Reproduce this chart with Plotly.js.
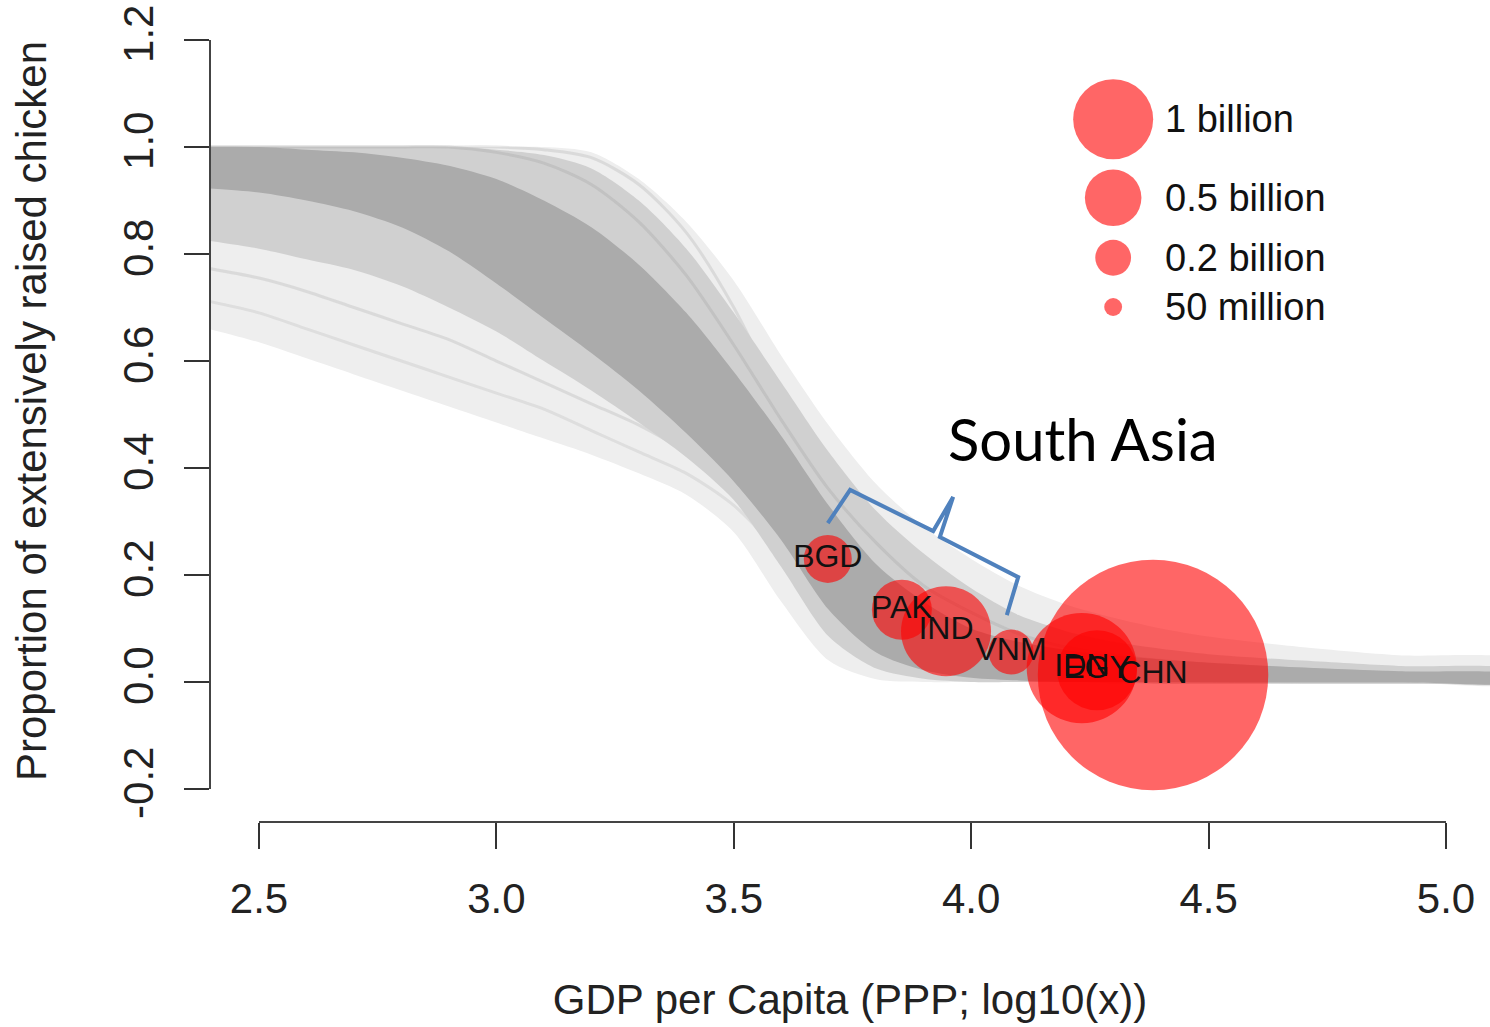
<!DOCTYPE html>
<html>
<head>
<meta charset="utf-8">
<script src="https://cdn.plot.ly/plotly-3.0.1.min.js"></script>
<style>html,body{margin:0;padding:0;background:#fff}#chart{width:1490px;height:1027px}</style>
</head>
<body>
<div id="chart"></div>
<script>
// ---- data ----
// grey bootstrap-curve band, sampled on a log10 GDP grid
const xGrid    = [2.35, 2.5, 2.6, 2.7, 2.8, 2.9, 3.0, 3.1, 3.2, 3.3, 3.4, 3.5, 3.6, 3.7, 3.8, 3.9, 4.0, 4.1, 4.2, 4.3, 4.4, 4.5, 4.7, 4.9, 5.15];
const outerTop = [1, 1, 1, 1, 1, 1, 1, 1, 0.99, 0.94, 0.86, 0.75, 0.61, 0.48, 0.37, 0.29, 0.23, 0.18, 0.145, 0.12, 0.10, 0.085, 0.065, 0.05, 0.04];
const outerBot = [0.67, 0.635, 0.605, 0.575, 0.545, 0.515, 0.485, 0.455, 0.425, 0.39, 0.35, 0.28, 0.15, 0.04, 0.005, 0, 0, 0, 0, 0, 0, 0, 0, 0, 0];
const midTop   = [1, 1, 1, 1, 1, 1, 0.995, 0.985, 0.96, 0.90, 0.81, 0.69, 0.56, 0.43, 0.32, 0.24, 0.175, 0.125, 0.095, 0.075, 0.062, 0.052, 0.04, 0.03, 0.022];
const midBot   = [0.83, 0.81, 0.79, 0.77, 0.74, 0.70, 0.655, 0.60, 0.545, 0.485, 0.42, 0.34, 0.215, 0.085, 0.025, 0.006, 0, 0, 0, 0, 0, 0, 0, 0, 0];
const coreTop  = [1, 1, 0.995, 0.99, 0.98, 0.965, 0.94, 0.90, 0.85, 0.78, 0.69, 0.58, 0.46, 0.33, 0.22, 0.15, 0.10, 0.075, 0.06, 0.05, 0.042, 0.036, 0.027, 0.02, 0.013];
const coreBot  = [0.925, 0.915, 0.90, 0.88, 0.85, 0.805, 0.745, 0.68, 0.615, 0.545, 0.465, 0.375, 0.265, 0.135, 0.055, 0.022, 0.008, 0.003, 0, 0, 0, 0, 0, 0, 0];
// a few individual curves visible as streaks inside the band
const streakA  = [0.86, 0.84, 0.82, 0.80, 0.77, 0.74, 0.70, 0.66, 0.62, 0.57, 0.51, 0.43, 0.33, 0.22, 0.13, 0.07, 0.04, 0.02, 0.01, 0.005, 0, 0, 0, 0, 0];
const streakB  = [0.78, 0.755, 0.73, 0.70, 0.67, 0.64, 0.60, 0.56, 0.52, 0.48, 0.43, 0.37, 0.28, 0.18, 0.10, 0.05, 0.025, 0.012, 0.006, 0.003, 0, 0, 0, 0, 0];
const streakC  = [0.72, 0.69, 0.66, 0.63, 0.60, 0.57, 0.54, 0.51, 0.47, 0.43, 0.39, 0.33, 0.24, 0.14, 0.07, 0.035, 0.017, 0.008, 0.004, 0, 0, 0, 0, 0, 0];
const streakD  = [1, 1, 1, 1, 1, 1, 1, 0.995, 0.98, 0.93, 0.84, 0.70, 0.52, 0.34, 0.20, 0.11, 0.06, 0.03, 0.015, 0.008, 0.004, 0.002, 0, 0, 0];
const streakE  = [1, 1, 1, 1, 1, 1, 0.99, 0.97, 0.93, 0.86, 0.76, 0.63, 0.49, 0.36, 0.26, 0.18, 0.13, 0.09, 0.065, 0.05, 0.04, 0.033, 0.024, 0.017, 0.012];

// countries
const countries = ['BGD', 'PAK', 'IND', 'VNM', 'IDN', 'EGY', 'CHN'];
const gdpLog    = [3.698, 3.854, 3.947, 4.084, 4.233, 4.265, 4.383];
const propExt   = [0.230, 0.135, 0.095, 0.056, 0.026, 0.022, 0.013];
const chickensM = [360, 562, 1266, 316, 1900, 1000, 8300];   // bubble size, millions

// size legend
const legendVals   = [1000, 500, 200, 50];
const legendLabels = ['1 billion', '0.5 billion', '0.2 billion', '50 million'];

// axes
const xTickVals = [2.5, 3.0, 3.5, 4.0, 4.5, 5.0];
const xTickText = ['2.5', '3.0', '3.5', '4.0', '4.5', '5.0'];
const yTickVals = [-0.2, 0.0, 0.2, 0.4, 0.6, 0.8, 1.0, 1.2];
const yTickText = ['-0.2', '0.0', '0.2', '0.4', '0.6', '0.8', '1.0', '1.2'];

// ---- build ----
const FONT = 'Liberation Sans, Arial, Helvetica, sans-serif';
function band(top, bot, color) {
  return {
    x: xGrid.concat(xGrid.slice().reverse()),
    y: top.concat(bot.slice().reverse()),
    type: 'scatter', mode: 'lines', fill: 'toself',
    fillcolor: color, line: {width: 0, shape: 'spline', smoothing: 0.8},
    hoverinfo: 'skip', showlegend: false
  };
}
function streak(ys, color, w) {
  return {
    x: xGrid, y: ys, type: 'scatter', mode: 'lines',
    line: {color: color, width: w, shape: 'spline', smoothing: 0.8},
    hoverinfo: 'skip', showlegend: false
  };
}
const SIZEREF = 2 * 1000 / (80 * 80); // 1 billion -> 80 px diameter

const legendY = [1.052, 0.905, 0.793, 0.701];

const traces = [
  band(outerTop, outerBot, '#eeeeee'),
  streak(streakA, 'rgba(150,150,150,0.25)', 3),
  streak(streakB, 'rgba(150,150,150,0.22)', 3),
  streak(streakC, 'rgba(150,150,150,0.18)', 3),
  streak(streakD, 'rgba(150,150,150,0.22)', 3),
  band(midTop, midBot, '#d0d0d0'),
  streak(streakE, 'rgba(150,150,150,0.25)', 3),
  band(coreTop, coreBot, '#ababab'),
  {
    x: gdpLog, y: propExt, text: countries,
    type: 'scatter', mode: 'markers+text',
    marker: {size: chickensM, sizemode: 'area', sizeref: SIZEREF, color: 'rgb(255,0,0)', opacity: 0.6, line: {width: 0}},
    textposition: 'middle center',
    textfont: {family: FONT, size: 32, color: '#111'},
    showlegend: false, cliponaxis: false
  },
  {
    x: legendVals.map(() => 4.299), y: legendY,
    type: 'scatter', mode: 'markers',
    marker: {size: legendVals, sizemode: 'area', sizeref: SIZEREF, color: 'rgb(255,0,0)', opacity: 0.6, line: {width: 0}},
    showlegend: false, hoverinfo: 'skip'
  }
];

const annotations = legendLabels.map((t, i) => ({
  x: 4.404, y: legendY[i], xref: 'x', yref: 'y',
  text: t, showarrow: false, xanchor: 'left', yanchor: 'middle',
  font: {family: FONT, size: 38, color: '#111'}
}));
annotations.push({
  x: 4.2355, y: 0.456, xref: 'x', yref: 'y', text: 'South Asia', showarrow: false,
  xanchor: 'center', yanchor: 'middle',
  font: {family: 'Lato, Open Sans, sans-serif', size: 58, color: '#000'}
});

const layout = {
  width: 1490, height: 1027,
  margin: {l: 210, r: 0, t: 0, b: 205},
  paper_bgcolor: '#fff', plot_bgcolor: '#fff',
  showlegend: false,
  xaxis: {
    range: [2.3968, 5.0927], showgrid: false, zeroline: false, showline: false,
    tickmode: 'array', tickvals: xTickVals, ticktext: xTickText,
    ticks: 'outside', ticklen: 26, tickwidth: 2, tickcolor: '#333',
    tickfont: {family: FONT, size: 42, color: '#222'},
    ticklabelstandoff: 14,
    title: {text: 'GDP per Capita (PPP; log10(x))', font: {family: FONT, size: 42, color: '#222'}, standoff: 63}
  },
  yaxis: {
    range: [-0.2617, 1.2748], showgrid: false, zeroline: false, showline: false,
    tickmode: 'array', tickvals: yTickVals, ticktext: yTickText,
    ticks: 'outside', ticklen: 25, tickwidth: 2, tickcolor: '#333',
    tickangle: -90,
    tickfont: {family: FONT, size: 42, color: '#222'},
    ticklabelstandoff: 14,
    title: {text: 'Proportion of extensively raised chicken', font: {family: FONT, size: 42, color: '#222'}, standoff: 55}
  },
  shapes: [
    {type: 'line', xref: 'x', yref: 'paper', x0: 2.5, x1: 5.0, y0: 0, y1: 0, line: {color: '#444', width: 2}},
    {type: 'line', xref: 'paper', yref: 'y', x0: 0, x1: 0, y0: -0.2, y1: 1.2, line: {color: '#444', width: 2}},
    {type: 'path', xref: 'x', yref: 'y',
     path: 'M 3.698,0.297 L 3.745,0.359 L 3.920,0.282 L 3.962,0.346 L 3.934,0.271 L 4.099,0.196 L 4.075,0.125',
     line: {color: '#4F81BD', width: 4}}
  ],
  annotations: annotations
};

Plotly.newPlot('chart', traces, layout, {staticPlot: true, displayModeBar: false});
</script>
</body>
</html>
